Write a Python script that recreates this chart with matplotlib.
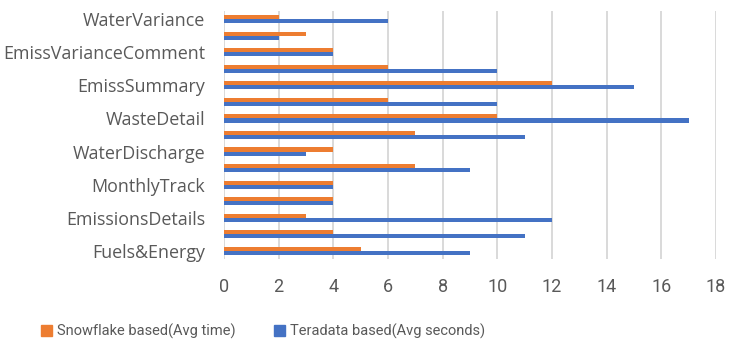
import matplotlib
matplotlib.use("Agg")
import matplotlib.pyplot as plt
import numpy as np
from matplotlib.font_manager import fontManager
from matplotlib.patches import Patch

# Categories from bottom to top (labels shown only every other row in the reference)
categories = ["Fuels&Energy", "", "EmissionsDetails", "", "MonthlyTrack", "",
              "WaterDischarge", "", "WasteDetail", "", "EmissSummary", "",
              "EmissVarianceComment", "", "WaterVariance"]
snowflake = [5, 4, 3, 4, 4, 7, 4, 7, 10, 6, 12, 6, 4, 3, 2]
teradata = [9, 11, 12, 4, 4, 9, 3, 11, 17, 10, 15, 10, 4, 2, 6]
series_names = ["Snowflake based(Avg time)", "Teradata based(Avg seconds)"]
xticks = [0, 2, 4, 6, 8, 10, 12, 14, 16, 18]

names = {f.name for f in fontManager.ttflist}
narrow = "Liberation Sans Narrow" if "Liberation Sans Narrow" in names else "Roboto"
label_font = "Open Sans" if "Open Sans" in names else "DejaVu Sans"

ORANGE = "#ED7D31"
BLUE = "#4472C4"
GRAY = "#595959"

fig = plt.figure(figsize=(7.42, 3.56), dpi=100)
ax = fig.add_axes([224/742, 1-259/356, (716-224)/742, (259-11)/356])

y = np.arange(len(categories))
h = 0.245
ax.barh(y + h/2, snowflake, height=h, color=ORANGE, label=series_names[0], zorder=3)
ax.barh(y - h/2, teradata, height=h, color=BLUE, label=series_names[1], zorder=3)

ax.set_xlim(0, 18)
ax.set_ylim(-0.5, len(categories) - 0.5)
ax.set_xticks(xticks)
ax.set_xticklabels([str(t) for t in xticks], fontsize=13, color=GRAY, family=narrow)
ax.set_yticks(y)
ax.set_yticklabels(categories, fontsize=12.9, color=GRAY, family=label_font)
ax.tick_params(axis="x", length=0, pad=14)
ax.tick_params(axis="y", length=0, pad=13.5)
for s in ax.spines.values():
    s.set_visible(False)
ax.grid(axis="x", color="#D9D9D9", linewidth=1.4, zorder=0)

handles = [Patch(color=ORANGE), Patch(color=BLUE)]
fig.legend(handles, series_names, loc="center", bbox_to_anchor=(263/742, 1-331/356),
           ncol=2, frameon=False, prop={"family": narrow, "size": 10.5},
           handlelength=0.75, handleheight=0.75, handletextpad=0.35, columnspacing=2.6,
           labelcolor=GRAY)

fig.savefig("out.png", dpi=100)
